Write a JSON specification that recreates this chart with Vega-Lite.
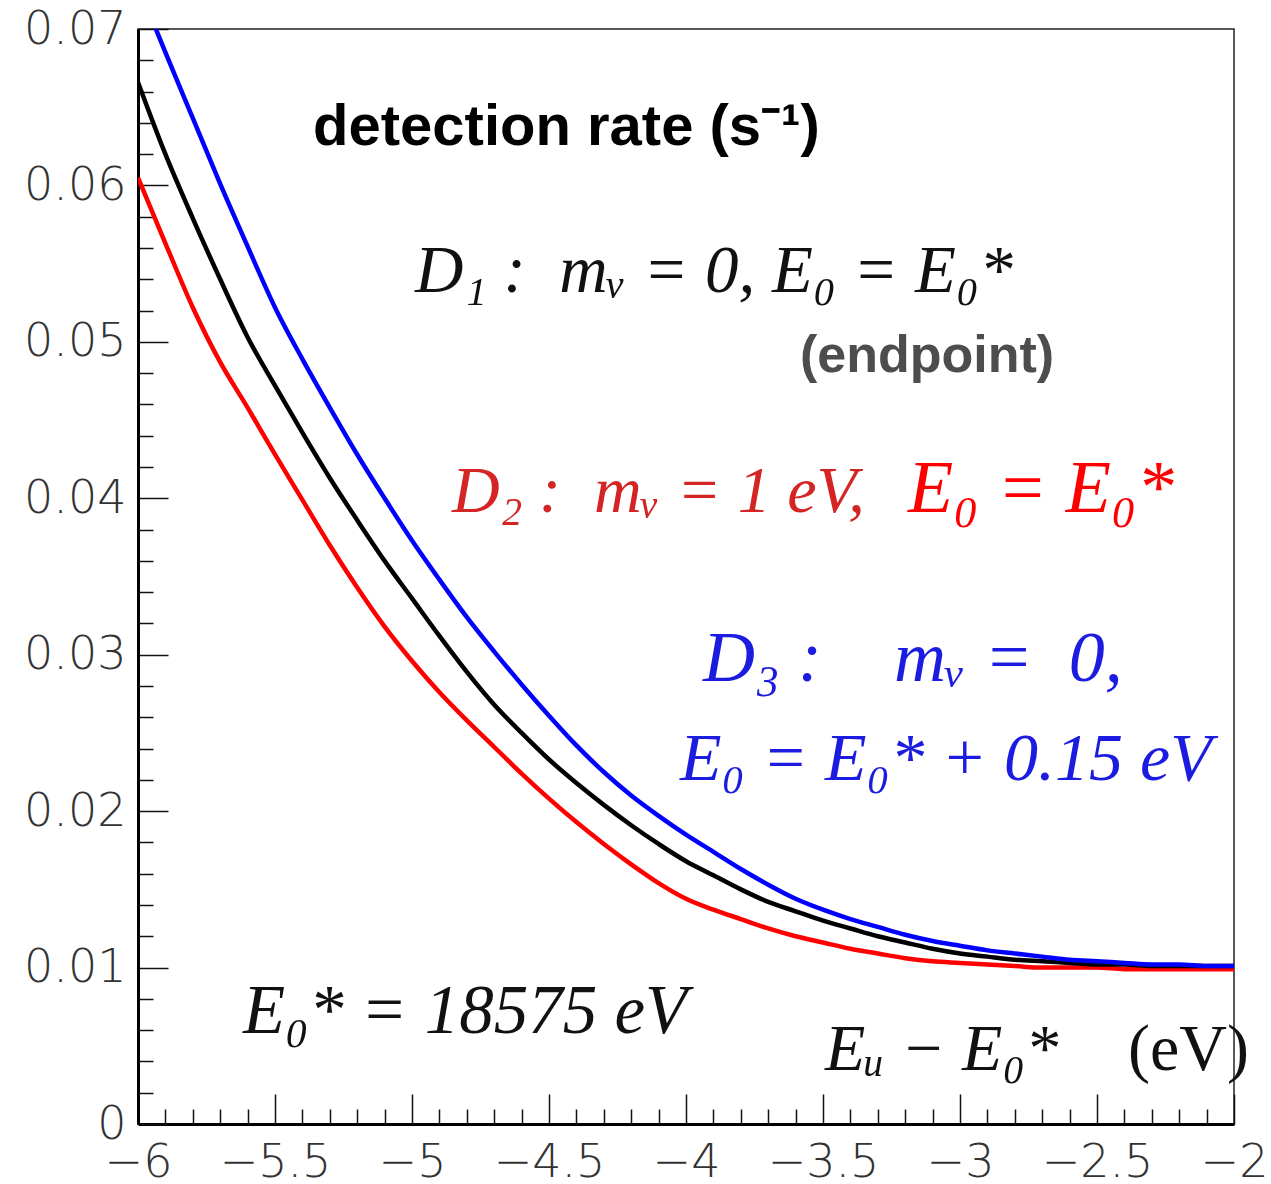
{
  "$schema": "https://vega.github.io/schema/vega-lite/v6.json",
  "width": 1096,
  "height": 1095,
  "autosize": {"type": "none"},
  "padding": {"left": 138, "top": 29, "right": 37, "bottom": 60},
  "background": "white",
  "config": {"view": {"stroke": "#222222", "strokeWidth": 1.5}},
  "resolve": {"axis": {"x": "independent", "y": "independent"}},
  "data": {"values": [
    {"m":"D2","x":-6.0,"r":0.0605},{"m":"D2","x":-5.9,"r":0.0563},{"m":"D2","x":-5.8,"r":0.0522},{"m":"D2","x":-5.7,"r":0.0487},{"m":"D2","x":-5.6,"r":0.0458},{"m":"D2","x":-5.5,"r":0.0428},{"m":"D2","x":-5.4,"r":0.0399},{"m":"D2","x":-5.3,"r":0.0370},{"m":"D2","x":-5.2,"r":0.0343},{"m":"D2","x":-5.1,"r":0.0318},{"m":"D2","x":-5.0,"r":0.0296},{"m":"D2","x":-4.9,"r":0.0276},{"m":"D2","x":-4.8,"r":0.0258},{"m":"D2","x":-4.7,"r":0.0241},{"m":"D2","x":-4.6,"r":0.0224},{"m":"D2","x":-4.5,"r":0.0208},{"m":"D2","x":-4.4,"r":0.0193},{"m":"D2","x":-4.3,"r":0.0179},{"m":"D2","x":-4.2,"r":0.0166},{"m":"D2","x":-4.1,"r":0.0154},{"m":"D2","x":-4.0,"r":0.0144},{"m":"D2","x":-3.9,"r":0.0137},{"m":"D2","x":-3.8,"r":0.0131},{"m":"D2","x":-3.7,"r":0.0125},{"m":"D2","x":-3.6,"r":0.0120},{"m":"D2","x":-3.5,"r":0.0116},{"m":"D2","x":-3.4,"r":0.0112},{"m":"D2","x":-3.3,"r":0.0109},{"m":"D2","x":-3.2,"r":0.0106},{"m":"D2","x":-3.1,"r":0.0104},{"m":"D2","x":-3.0,"r":0.0103},{"m":"D2","x":-2.9,"r":0.0102},{"m":"D2","x":-2.8,"r":0.0101},{"m":"D2","x":-2.7,"r":0.0100},{"m":"D2","x":-2.6,"r":0.0100},{"m":"D2","x":-2.5,"r":0.0100},{"m":"D2","x":-2.4,"r":0.0099},{"m":"D2","x":-2.3,"r":0.0099},{"m":"D2","x":-2.2,"r":0.0099},{"m":"D2","x":-2.1,"r":0.0099},{"m":"D2","x":-2.0,"r":0.0099},
    {"m":"D1","x":-6.0,"r":0.0666},{"m":"D1","x":-5.9,"r":0.0620},{"m":"D1","x":-5.8,"r":0.0579},{"m":"D1","x":-5.7,"r":0.0540},{"m":"D1","x":-5.6,"r":0.0503},{"m":"D1","x":-5.5,"r":0.0472},{"m":"D1","x":-5.4,"r":0.0442},{"m":"D1","x":-5.3,"r":0.0413},{"m":"D1","x":-5.2,"r":0.0386},{"m":"D1","x":-5.1,"r":0.0360},{"m":"D1","x":-5.0,"r":0.0336},{"m":"D1","x":-4.9,"r":0.0312},{"m":"D1","x":-4.8,"r":0.0289},{"m":"D1","x":-4.7,"r":0.0268},{"m":"D1","x":-4.6,"r":0.0250},{"m":"D1","x":-4.5,"r":0.0233},{"m":"D1","x":-4.4,"r":0.0218},{"m":"D1","x":-4.3,"r":0.0204},{"m":"D1","x":-4.2,"r":0.0191},{"m":"D1","x":-4.1,"r":0.0179},{"m":"D1","x":-4.0,"r":0.0168},{"m":"D1","x":-3.9,"r":0.0159},{"m":"D1","x":-3.8,"r":0.0150},{"m":"D1","x":-3.7,"r":0.0142},{"m":"D1","x":-3.6,"r":0.0136},{"m":"D1","x":-3.5,"r":0.0130},{"m":"D1","x":-3.4,"r":0.0125},{"m":"D1","x":-3.3,"r":0.0120},{"m":"D1","x":-3.2,"r":0.0116},{"m":"D1","x":-3.1,"r":0.0112},{"m":"D1","x":-3.0,"r":0.0109},{"m":"D1","x":-2.9,"r":0.0107},{"m":"D1","x":-2.8,"r":0.0105},{"m":"D1","x":-2.7,"r":0.0104},{"m":"D1","x":-2.6,"r":0.0103},{"m":"D1","x":-2.5,"r":0.0102},{"m":"D1","x":-2.4,"r":0.0102},{"m":"D1","x":-2.3,"r":0.0101},{"m":"D1","x":-2.2,"r":0.0101},{"m":"D1","x":-2.1,"r":0.0101},{"m":"D1","x":-2.0,"r":0.0101},
    {"m":"D3","x":-6.0,"r":0.0728},{"m":"D3","x":-5.9,"r":0.0685},{"m":"D3","x":-5.8,"r":0.0643},{"m":"D3","x":-5.7,"r":0.0601},{"m":"D3","x":-5.6,"r":0.0561},{"m":"D3","x":-5.5,"r":0.0522},{"m":"D3","x":-5.4,"r":0.0489},{"m":"D3","x":-5.3,"r":0.0458},{"m":"D3","x":-5.2,"r":0.0428},{"m":"D3","x":-5.1,"r":0.0400},{"m":"D3","x":-5.0,"r":0.0373},{"m":"D3","x":-4.9,"r":0.0348},{"m":"D3","x":-4.8,"r":0.0324},{"m":"D3","x":-4.7,"r":0.0302},{"m":"D3","x":-4.6,"r":0.0281},{"m":"D3","x":-4.5,"r":0.0261},{"m":"D3","x":-4.4,"r":0.0242},{"m":"D3","x":-4.3,"r":0.0225},{"m":"D3","x":-4.2,"r":0.0210},{"m":"D3","x":-4.1,"r":0.0197},{"m":"D3","x":-4.0,"r":0.0185},{"m":"D3","x":-3.9,"r":0.0174},{"m":"D3","x":-3.8,"r":0.0163},{"m":"D3","x":-3.7,"r":0.0153},{"m":"D3","x":-3.6,"r":0.0144},{"m":"D3","x":-3.5,"r":0.0137},{"m":"D3","x":-3.4,"r":0.0131},{"m":"D3","x":-3.3,"r":0.0126},{"m":"D3","x":-3.2,"r":0.0121},{"m":"D3","x":-3.1,"r":0.0117},{"m":"D3","x":-3.0,"r":0.0114},{"m":"D3","x":-2.9,"r":0.0111},{"m":"D3","x":-2.8,"r":0.0109},{"m":"D3","x":-2.7,"r":0.0107},{"m":"D3","x":-2.6,"r":0.0105},{"m":"D3","x":-2.5,"r":0.0104},{"m":"D3","x":-2.4,"r":0.0103},{"m":"D3","x":-2.3,"r":0.0102},{"m":"D3","x":-2.2,"r":0.0102},{"m":"D3","x":-2.1,"r":0.0101},{"m":"D3","x":-2.0,"r":0.0101}
  ]},
  "layer": [
    {
      "mark": {"type": "line", "strokeWidth": 4.5, "clip": true, "interpolate": "monotone"},
      "encoding": {
        "x": {"field": "x", "type": "quantitative",
          "scale": {"domain": [-6, -2], "nice": false, "zero": false},
          "axis": {
            "orient": "bottom", "title": null, "grid": false,
            "values": [-6,-5.5,-5,-4.5,-4,-3.5,-3,-2.5,-2],
            "tickSize": -30, "tickColor": "#111111", "tickWidth": 1.5,
            "domainColor": "#000000", "domainWidth": 3,
            "labelExpr": "(datum.value < 0 ? '−' : '') + format(abs(datum.value), '')",
            "labelFont": "DejaVu Sans", "labelFontWeight": 200, "labelFontSize": 46, "labelColor": "#333333",
            "labelPadding": 46, "labelFlush": false, "labelOverlap": false, "labelBaseline": "top"
          }
        },
        "y": {"field": "r", "type": "quantitative",
          "scale": {"domain": [0, 0.07], "nice": false, "zero": true},
          "axis": {
            "orient": "left", "title": null, "grid": false,
            "values": [0,0.01,0.02,0.03,0.04,0.05,0.06,0.07],
            "tickSize": -30, "tickColor": "#111111", "tickWidth": 1.5,
            "domainColor": "#000000", "domainWidth": 3,
            "labelExpr": "datum.value == 0 ? '0' : format(datum.value, '.2f')",
            "labelFont": "DejaVu Sans", "labelFontWeight": 200, "labelFontSize": 46, "labelColor": "#333333",
            "labelPadding": 42, "labelFlush": false, "labelOverlap": false
          }
        },
        "color": {"field": "m", "type": "nominal",
          "scale": {"domain": ["D2", "D1", "D3"], "range": ["#ff0000", "#000000", "#0000ff"]},
          "legend": null}
      }
    },
    {
      "mark": {"type": "line", "opacity": 0, "clip": true},
      "encoding": {
        "x": {"field": "x", "type": "quantitative",
          "axis": {
            "orient": "bottom", "title": null, "grid": false, "labels": false, "domain": false,
            "values": [-5.9,-5.8,-5.7,-5.6,-5.4,-5.3,-5.2,-5.1,-4.9,-4.8,-4.7,-4.6,-4.4,-4.3,-4.2,-4.1,-3.9,-3.8,-3.7,-3.6,-3.4,-3.3,-3.2,-3.1,-2.9,-2.8,-2.7,-2.6,-2.4,-2.3,-2.2,-2.1],
            "tickSize": -15, "tickColor": "#111111", "tickWidth": 1.5
          }
        },
        "y": {"field": "r", "type": "quantitative",
          "axis": {
            "orient": "left", "title": null, "grid": false, "labels": false, "domain": false,
            "values": [0.002,0.004,0.006,0.008,0.012,0.014,0.016,0.018,0.022,0.024,0.026,0.028,0.032,0.034,0.036,0.038,0.042,0.044,0.046,0.048,0.052,0.054,0.056,0.058,0.062,0.064,0.066,0.068],
            "tickSize": -15, "tickColor": "#111111", "tickWidth": 1.5
          }
        },
        "detail": {"field": "m", "type": "nominal"}
      }
    },
    {
      "data": {"values": [{"t": "detection rate (s⁻¹)"}]},
      "mark": {"type": "text", "align": "left", "baseline": "alphabetic", "font": "Liberation Sans", "fontWeight": "bold", "fontSize": 58, "color": "#000000"},
      "encoding": {"x": {"datum": -5.361, "axis": null}, "y": {"datum": 0.0626, "axis": null}, "text": {"field": "t"}}
    },
    {
      "data": {"values": [{"t": "D₁ :\u2002mᵥ = 0,\u2005E₀ = E₀*"}]},
      "mark": {"type": "text", "align": "left", "baseline": "alphabetic", "font": "Liberation Serif", "fontStyle": "italic", "fontSize": 67, "color": "#111111"},
      "encoding": {"x": {"datum": -4.989, "axis": null}, "y": {"datum": 0.0532, "axis": null}, "text": {"field": "t"}}
    },
    {
      "data": {"values": [{"t": "(endpoint)"}]},
      "mark": {"type": "text", "align": "left", "baseline": "alphabetic", "font": "Liberation Sans", "fontWeight": "bold", "fontSize": 52, "color": "#4d4d4d"},
      "encoding": {"x": {"datum": -3.584, "axis": null}, "y": {"datum": 0.0481, "axis": null}, "text": {"field": "t"}}
    },
    {
      "data": {"values": [{"t": "D₂ :\u2002mᵥ = 1 eV,"}]},
      "mark": {"type": "text", "align": "left", "baseline": "alphabetic", "font": "Liberation Serif", "fontStyle": "italic", "fontSize": 66, "color": "#d42424"},
      "encoding": {"x": {"datum": -4.854, "axis": null}, "y": {"datum": 0.0391, "axis": null}, "text": {"field": "t"}}
    },
    {
      "data": {"values": [{"t": "E₀  =  E₀*"}]},
      "mark": {"type": "text", "align": "left", "baseline": "alphabetic", "font": "Liberation Serif", "fontStyle": "italic", "fontSize": 74, "color": "#ff0000"},
      "encoding": {"x": {"datum": -3.19, "axis": null}, "y": {"datum": 0.0391, "axis": null}, "text": {"field": "t"}}
    },
    {
      "data": {"values": [{"t": "D₃ :\u2003mᵥ = \u20050,"}]},
      "mark": {"type": "text", "align": "left", "baseline": "alphabetic", "font": "Liberation Serif", "fontStyle": "italic", "fontSize": 72, "color": "#1c1ce0"},
      "encoding": {"x": {"datum": -3.938, "axis": null}, "y": {"datum": 0.0283, "axis": null}, "text": {"field": "t"}}
    },
    {
      "data": {"values": [{"t": "E₀ = E₀* + 0.15 eV"}]},
      "mark": {"type": "text", "align": "left", "baseline": "alphabetic", "font": "Liberation Serif", "fontStyle": "italic", "fontSize": 68, "color": "#1c1ce0"},
      "encoding": {"x": {"datum": -4.022, "axis": null}, "y": {"datum": 0.0220, "axis": null}, "text": {"field": "t"}}
    },
    {
      "data": {"values": [{"t": "E₀* = 18575 eV"}]},
      "mark": {"type": "text", "align": "left", "baseline": "alphabetic", "font": "Liberation Serif", "fontStyle": "italic", "fontSize": 69, "color": "#111111"},
      "encoding": {"x": {"datum": -5.617, "axis": null}, "y": {"datum": 0.00582, "axis": null}, "text": {"field": "t"}}
    },
    {
      "data": {"values": [{"t": "Eᵤ − E₀*"}]},
      "mark": {"type": "text", "align": "left", "baseline": "alphabetic", "font": "Liberation Serif", "fontStyle": "italic", "fontSize": 66, "color": "#111111"},
      "encoding": {"x": {"datum": -3.493, "axis": null}, "y": {"datum": 0.00345, "axis": null}, "text": {"field": "t"}}
    },
    {
      "data": {"values": [{"t": "(eV)"}]},
      "mark": {"type": "text", "align": "left", "baseline": "alphabetic", "font": "Liberation Serif", "fontSize": 66, "color": "#111111"},
      "encoding": {"x": {"datum": -2.387, "axis": null}, "y": {"datum": 0.00345, "axis": null}, "text": {"field": "t"}}
    }
  ]
}
